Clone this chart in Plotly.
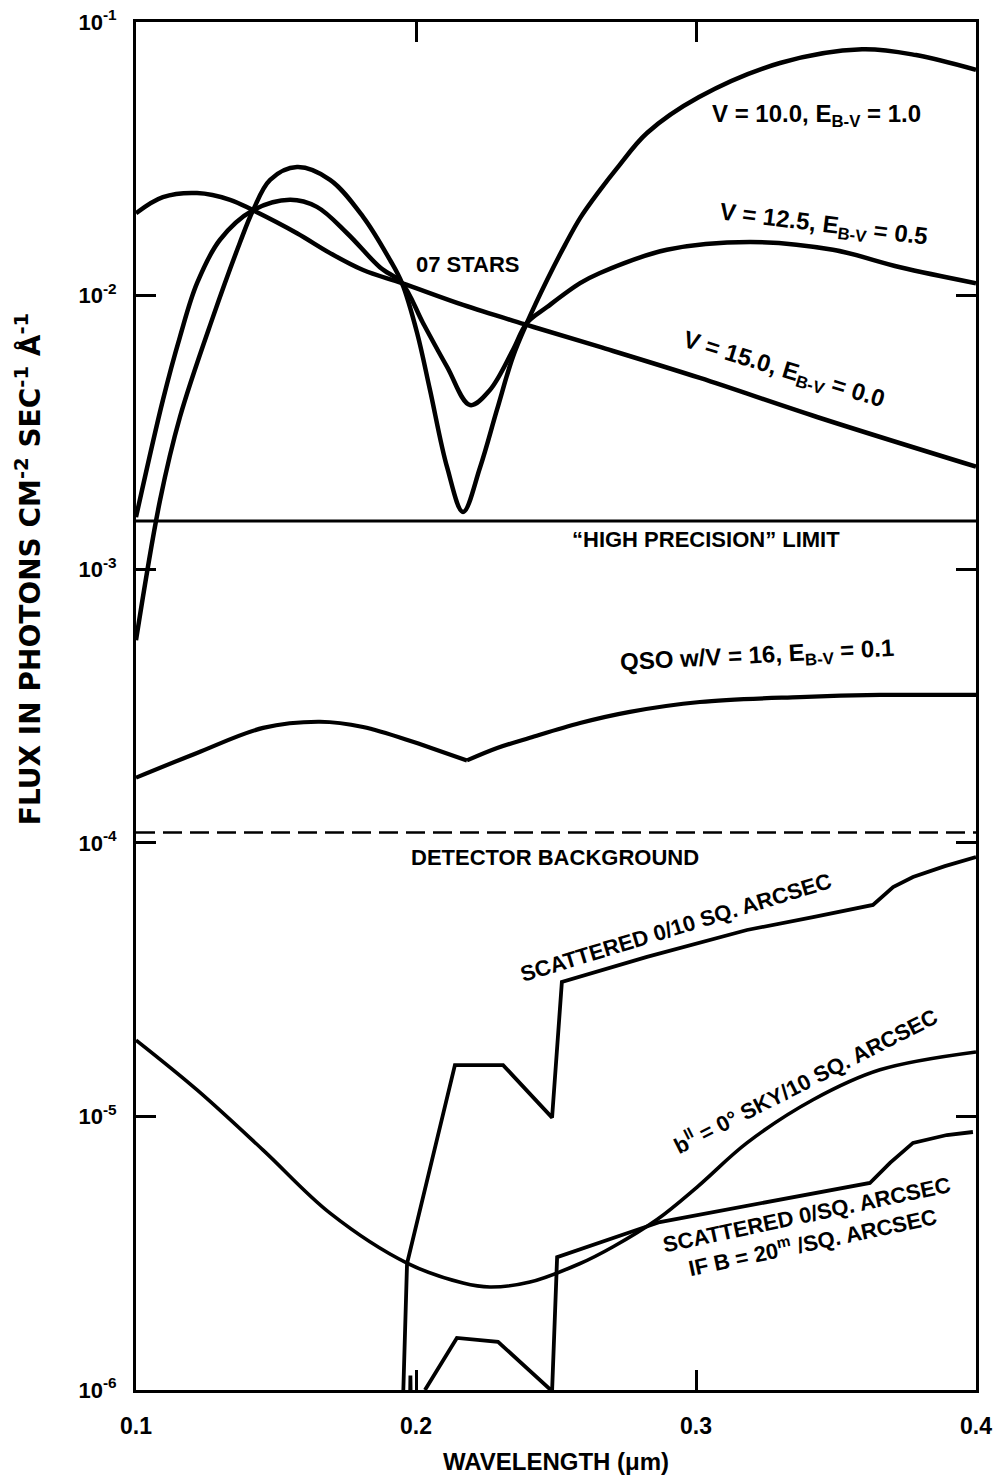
import plotly.graph_objects as go

# Wavelength in micrometres, flux in photons cm^-2 s^-1 Å^-1

# O7 stars, V = 10.0, E(B-V) = 1.0
wl_v10 = [0.1, 0.1086, 0.1157, 0.1275, 0.1371, 0.1418, 0.1479, 0.1575, 0.1693,
          0.1811, 0.1907, 0.195, 0.2004, 0.205, 0.2111, 0.2168, 0.2229, 0.2289,
          0.2346, 0.2396, 0.2468, 0.2532, 0.2586, 0.2657, 0.2721, 0.2825, 0.3011,
          0.33, 0.3593, 0.3786, 0.4]
flux_v10 = [5.5e-4, 1.79e-3, 3.6e-3, 8.36e-3, 1.56e-2, 2.05e-2, 2.65e-2, 2.95e-2, 2.65e-2,
            1.94e-2, 1.35e-2, 1.11e-2, 7.3e-3, 4.52e-3, 2.36e-3, 1.62e-3, 2.36e-3, 3.82e-3,
            5.97e-3, 7.94e-3, 1.14e-2, 1.53e-2, 1.92e-2, 2.43e-2, 2.95e-2, 3.93e-2, 5.32e-2,
            7.08e-2, 7.95e-2, 7.57e-2, 6.68e-2]

# O7 stars, V = 12.5, E(B-V) = 0.5
wl_v125 = [0.1, 0.1096, 0.1157, 0.1218, 0.13, 0.1418, 0.155, 0.1646, 0.1754, 0.1871,
           0.195, 0.2025, 0.2111, 0.2193, 0.2264, 0.2346, 0.2396, 0.2468, 0.2586,
           0.2657, 0.2896, 0.3193, 0.3489, 0.3729, 0.4]
flux_v125 = [1.55e-3, 4.15e-3, 7.07e-3, 1.11e-2, 1.6e-2, 2.05e-2, 2.24e-2, 2.11e-2, 1.69e-2,
             1.27e-2, 1.11e-2, 7.94e-3, 5.49e-3, 3.98e-3, 4.52e-3, 6.32e-3, 7.94e-3, 9.08e-3,
             1.11e-2, 1.21e-2, 1.47e-2, 1.57e-2, 1.47e-2, 1.27e-2, 1.11e-2]

# O7 stars, V = 15.0, E(B-V) = 0.0
wl_v15 = [0.1, 0.1096, 0.1218, 0.1336, 0.1418, 0.1575, 0.1693, 0.1811, 0.195,
          0.2168, 0.2396, 0.2657, 0.3014, 0.3432, 0.4]
flux_v15 = [2.0e-2, 2.29e-2, 2.37e-2, 2.24e-2, 2.05e-2, 1.69e-2, 1.43e-2, 1.24e-2, 1.11e-2,
            9.24e-3, 7.81e-3, 6.49e-3, 5.0e-3, 3.6e-3, 2.37e-3]

# QSO with V = 16, E(B-V) = 0.1 (two branches meeting at the 2175 Å cusp)
wl_qso_blue = [0.1, 0.1218, 0.1454, 0.1657, 0.1811, 0.1989, 0.2054, 0.2182]
flux_qso_blue = [1.73e-4, 2.13e-4, 2.63e-4, 2.77e-4, 2.65e-4, 2.34e-4, 2.22e-4, 2.0e-4]
wl_qso_red = [0.2182, 0.229, 0.2407, 0.2586, 0.2764, 0.3014, 0.3371, 0.3657, 0.4]
flux_qso_red = [2.0e-4, 2.22e-4, 2.42e-4, 2.74e-4, 3.01e-4, 3.27e-4, 3.41e-4, 3.47e-4, 3.47e-4]

# Galactic-plane sky background per 10 sq. arcsec
wl_sky = [0.1, 0.1218, 0.1454, 0.1693, 0.1968, 0.2168, 0.2264, 0.2407, 0.2586, 0.2704,
          0.2861, 0.3004, 0.3182, 0.3418, 0.3657, 0.4]
flux_sky = [1.9e-5, 1.25e-5, 7.53e-6, 4.43e-6, 2.91e-6, 2.46e-6, 2.38e-6, 2.48e-6, 2.9e-6,
            3.34e-6, 4.2e-6, 5.52e-6, 8.0e-6, 1.15e-5, 1.48e-5, 1.72e-5]

# Scattered light per 10 sq. arcsec
wl_scat10 = [0.1952, 0.1968, 0.2139, 0.2311, 0.2486, 0.2521, 0.2825, 0.3182, 0.3418,
             0.3632, 0.3704, 0.3775, 0.3889, 0.4]
flux_scat10 = [8.0e-7, 2.9e-6, 1.54e-5, 1.54e-5, 9.9e-6, 3.1e-5, 3.83e-5, 4.8e-5, 5.35e-5,
               5.93e-5, 6.89e-5, 7.5e-5, 8.22e-5, 8.87e-5]

# Scattered light per sq. arcsec (B = 20 mag)
wl_scat1 = [0.1978, 0.1980, 0.1982, None, 0.2032, 0.2146, 0.2293, 0.2486, 0.2504,
            0.2871, 0.3621, 0.3693, 0.3775, 0.3896, 0.3989]
flux_scat1 = [8.0e-7, 1.13e-6, 8.0e-7, None, 1.0e-6, 1.55e-6, 1.5e-6, 9.9e-7, 3.06e-6,
              4.11e-6, 5.71e-6, 6.76e-6, 8.0e-6, 8.55e-6, 8.77e-6]

# Reference levels
wl_span = [0.1, 0.4]
high_precision = [1.5e-3, 1.5e-3]
detector_bg = [1.09e-4, 1.09e-4]

x_ticks = [0.1, 0.2, 0.3, 0.4]
x_ticktext = ["0.1", "0.2", "0.3", "0.4"]
y_ticks = [1e-6, 1e-5, 1e-4, 1e-3, 1e-2, 1e-1]
y_ticktext = ["10<sup>-6</sup>", "10<sup>-5</sup>", "10<sup>-4</sup>",
              "10<sup>-3</sup>", "10<sup>-2</sup>", "10<sup>-1</sup>"]

FONT = "Liberation Sans, Arial, Helvetica, sans-serif"
WIDE_FONT = "DejaVu Sans, Verdana, sans-serif"

fig = go.Figure()

def curve(x, y, width=4.5, shape="spline", dash="solid"):
    fig.add_trace(go.Scatter(
        x=x, y=y, mode="lines", connectgaps=False, hoverinfo="skip",
        line=dict(color="black", width=width, shape=shape, dash=dash),
    ))

curve(wl_v10, flux_v10)
curve(wl_v125, flux_v125)
curve(wl_v15, flux_v15)
curve(wl_qso_blue, flux_qso_blue, width=4.2)
curve(wl_qso_red, flux_qso_red, width=4.2)
curve(wl_sky, flux_sky, width=3.6)
curve(wl_scat10, flux_scat10, width=3.8, shape="linear")
curve(wl_scat1, flux_scat1, width=3.8, shape="linear")
curve(wl_span, high_precision, width=3.0, shape="linear")
curve(wl_span, detector_bg, width=2.6, shape="linear", dash="19px,8px")

def label(text, x, logy, angle=0, size=22):
    fig.add_annotation(
        x=x, y=logy, xref="x", yref="y", text=text, showarrow=False,
        textangle=angle, font=dict(family=FONT, size=size, color="black", weight="bold"),
    )

label("V = 10.0, E<sub>B-V</sub> = 1.0", 0.3429, -1.34, size=24)
label("V = 12.5, E<sub>B-V</sub> = 0.5", 0.3454, -1.745, angle=7, size=24)
label("07 STARS", 0.2186, -1.885)
label("V = 15.0, E<sub>B-V</sub> = 0.0", 0.3311, -2.275, angle=17, size=24)
label("\u201cHIGH PRECISION\u201d LIMIT", 0.3036, -2.893)
label("QSO w/V = 16, E<sub>B-V</sub> = 0.1", 0.3218, -3.32, angle=-3, size=24)
label("DETECTOR BACKGROUND", 0.2496, -4.052)
label("SCATTERED 0/10 SQ. ARCSEC", 0.2929, -4.311, angle=-17)
label("b<sup>II</sup> = 0\u00b0 SKY/10 SQ. ARCSEC", 0.3389, -4.867, angle=-27)
label("SCATTERED 0/SQ. ARCSEC<br>IF B = 20<sup>m</sup> /SQ. ARCSEC", 0.3405, -5.41, angle=-12)

# Vertical axis title, centred on the stellar/QSO part of the scale
fig.add_annotation(
    x=-0.1286, y=0.60, xref="paper", yref="paper", xanchor="center", yanchor="middle",
    showarrow=False, textangle=-90,
    text="FLUX IN PHOTONS CM<sup>-2</sup> SEC<sup>-1</sup> \u00c5<sup>-1</sup>",
    font=dict(family=WIDE_FONT, size=28, color="black", weight="bold"),
)

axis_common = dict(
    showgrid=False, zeroline=False, showline=True, linecolor="black", linewidth=3,
    mirror="ticks", ticks="inside", ticklen=20, tickwidth=3, tickcolor="black",
)

fig.update_xaxes(
    range=[0.1, 0.4], tickvals=x_ticks, ticktext=x_ticktext, ticklabelstandoff=13,
    tickfont=dict(family=FONT, size=23, color="black", weight="bold"),
    title=dict(text="WAVELENGTH (\u03bcm)", standoff=22,
               font=dict(family=FONT, size=24, color="black", weight="bold")),
    **axis_common,
)
fig.update_yaxes(
    type="log", range=[-6, -1], tickvals=y_ticks, ticktext=y_ticktext, ticklabelstandoff=12,
    tickfont=dict(family=FONT, size=22, color="black", weight="bold"),
    **axis_common,
)

fig.update_layout(
    width=997, height=1475, autosize=False,
    margin=dict(l=136, r=21, t=22, b=85, autoexpand=False),
    plot_bgcolor="white", paper_bgcolor="white", showlegend=False,
    font=dict(family=FONT, color="black"),
)

fig.write_html("out.html")
